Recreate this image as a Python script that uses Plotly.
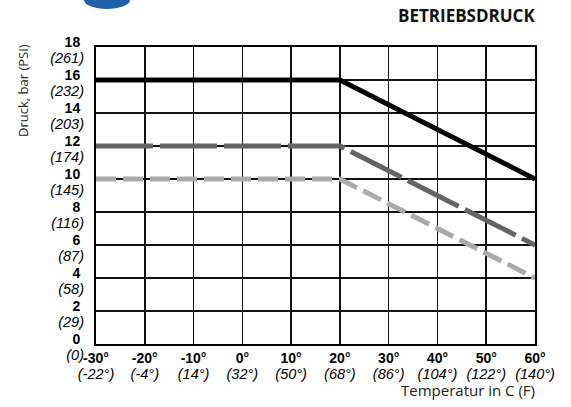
import plotly.graph_objects as go

temps_c = [-30, -20, -10, 0, 10, 20, 30, 40, 50, 60]
temps_f = [-22, -4, 14, 32, 50, 68, 86, 104, 122, 140]
bar_vals = [0, 2, 4, 6, 8, 10, 12, 14, 16, 18]
psi_vals = [0, 29, 58, 87, 116, 145, 174, 203, 232, 261]

line_x = [-30, 20, 60]
series_black = [16, 16, 10]
series_dark = [12, 12, 6]
series_light = [10, 10, 4]

fig = go.Figure()
fig.add_trace(go.Scatter(x=line_x, y=series_light, mode="lines",
                         line=dict(color="#aaaaaa", width=5, dash="20px,7px"), hoverinfo="skip"))
fig.add_trace(go.Scatter(x=line_x, y=series_dark, mode="lines",
                         line=dict(color="#646464", width=5, dash="57px,7px"), hoverinfo="skip"))
fig.add_trace(go.Scatter(x=line_x, y=series_black, mode="lines",
                         line=dict(color="#000000", width=5), hoverinfo="skip"))
# invisible trace to activate the secondary (label) axes
fig.add_trace(go.Scatter(x=[-30], y=[0], xaxis="x2", yaxis="y2", mode="markers",
                         marker=dict(opacity=0), hoverinfo="skip"))

xt_bold = [f"<b>{c}°</b>" for c in temps_c]
xt_ital = [f"<i>({f}°)</i>" for f in temps_f]
yt_bold = [f"<b>{b}</b>" for b in bar_vals]
yt_ital = [f"<i>({p})</i>" for p in psi_vals]

bold_font = dict(family="Liberation Sans, Arial", size=14, color="#000")
ital_font = dict(family="Liberation Sans, Arial", size=14.5, color="#000")

fig.update_layout(
    xaxis=dict(range=[-30, 60], tickvals=temps_c, ticktext=xt_bold,
               showgrid=True, gridcolor="#111111", gridwidth=1.5,
               showline=True, linecolor="#000000", linewidth=2, mirror=True,
               zeroline=False, ticks="", ticklabelstandoff=0, tickfont=bold_font),
    yaxis=dict(range=[0, 18], tickvals=bar_vals, ticktext=yt_bold,
               showgrid=True, gridcolor="#111111", gridwidth=1.5,
               showline=True, linecolor="#000000", linewidth=2, mirror=True,
               zeroline=False, ticks="", ticklabelstandoff=11, ticklabelshift=-5,
               tickfont=bold_font),
    xaxis2=dict(range=[-30, 60], tickvals=temps_c, ticktext=xt_ital,
                overlaying="x", side="bottom", showgrid=False, showline=False,
                zeroline=False, ticks="", ticklabelstandoff=19, tickfont=ital_font),
    yaxis2=dict(range=[0, 18], tickvals=bar_vals, ticktext=yt_ital,
                overlaying="y", side="left", showgrid=False, showline=False,
                zeroline=False, ticks="", ticklabelstandoff=11, ticklabelshift=11,
                tickfont=ital_font),
    width=571, height=407,
    margin=dict(l=96, r=36, t=47, b=63, autoexpand=False),
    plot_bgcolor="white", paper_bgcolor="white",
    showlegend=False,
    annotations=[
        dict(text="<b>BETRIEBSDRUCK</b>", xref="paper", yref="paper",
             x=(537 - 96) / 439, y=(344 - 16) / 297, xanchor="right", yanchor="middle",
             showarrow=False, font=dict(family="Open Sans", size=17, color="#111")),
        dict(text="Temperatur in C (F)", xref="paper", yref="paper",
             x=(537 - 96) / 439, y=(344 - 390) / 297, xanchor="right", yanchor="middle",
             showarrow=False, font=dict(family="Open Sans", size=15, color="#222")),
        dict(text="Druck, bar (PSI)", xref="paper", yref="paper", textangle=-90,
             x=(23 - 96) / 439, y=(344 - 91) / 297, xanchor="center", yanchor="middle",
             showarrow=False, font=dict(family="Open Sans", size=13, color="#222")),
    ],
    shapes=[
        dict(type="circle", xref="paper", yref="paper",
             x0=(84 - 96) / 439, x1=(130 - 96) / 439,
             y0=(344 - 9) / 297, y1=(344 + 9) / 297,
             fillcolor="#1f5ea8", line=dict(width=0), layer="above"),
    ],
)

fig.write_html("out.html", config={"displayModeBar": False, "staticPlot": True},
               post_script="document.body.style.margin='0px';")
